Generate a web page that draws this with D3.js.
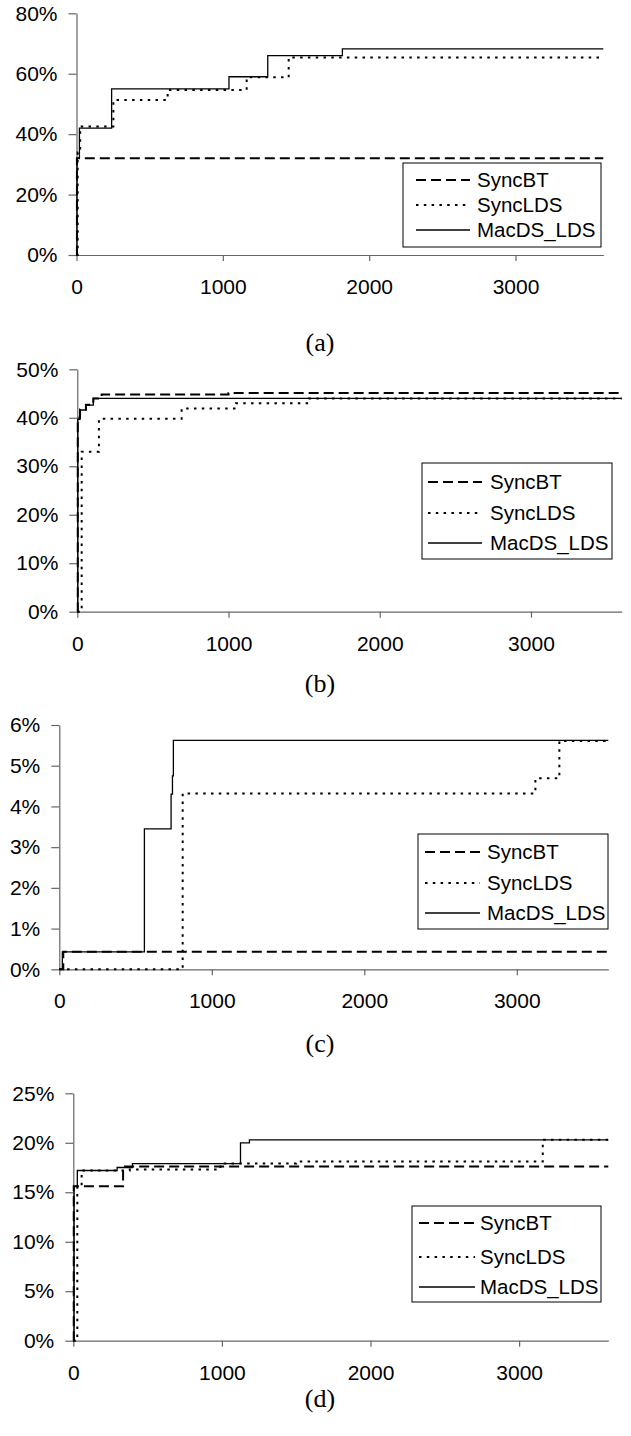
<!DOCTYPE html>
<html>
<head>
<meta charset="utf-8">
<script src="https://cdn.jsdelivr.net/npm/d3@7"></script>
<style>
  body { margin: 0; background: #fff; }
  svg text { font-family: "Liberation Sans", Arial, sans-serif; fill: #000; }
  .cap { font-family: "Liberation Serif", "Times New Roman", serif; }
</style>
</head>
<body>
<svg id="chart" width="631" height="1436"></svg>
<script>
// series names + x ticks shared by all four panels
var seriesNames = ["SyncBT", "SyncLDS", "MacDS_LDS"];
var xTicks = [0, 1000, 2000, 3000];

// (a) step points [time, percent]
var a_syncBT = [[0,0],[3,32],[3600,32]];
var a_syncLDS = [[0,0],[8,34],[25,42.5],[252,51.3],[623,54.6],[1163,58.8],[1450,65.4],[3600,65.4]];
var a_macDS = [[0,0],[3,32],[20,42],[240,55],[1042,59],[1307,66],[1817,68.2],[3600,68.2]];
var a_yTicks = [0, 20, 40, 60, 80];

// (b)
var b_syncBT = [[0,0],[3,40],[18,41.7],[57,42.7],[106,44],[161,44.8],[1000,45.1],[3600,45.1]];
var b_syncLDS = [[0,0],[29,33],[143,39.8],[690,41.9],[1049,43],[1530,44],[3600,44]];
var b_macDS = [[0,0],[3,39.7],[18,41.6],[57,42.6],[106,44],[3600,44]];
var b_yTicks = [0, 10, 20, 30, 40, 50];

// (c)
var c_syncBT = [[0,0],[26,0.43],[3600,0.43]];
var c_syncLDS = [[0,0],[809,4.32],[3122,4.69],[3279,5.61],[3600,5.61]];
var c_macDS = [[0,0],[20,0.43],[558,3.45],[733,4.3],[742,4.75],[748,5.62],[3600,5.62]];
var c_yTicks = [0, 1, 2, 3, 4, 5, 6];

// (d)
var d_syncBT = [[0,0],[3,15.6],[335,17.6],[3600,17.6]];
var d_syncLDS = [[0,0],[27,15.7],[56,17.2],[380,17.3],[990,17.9],[1500,18.1],[3159,20.3],[3600,20.3]];
var d_macDS = [[0,0],[5,15.6],[27,17.2],[295,17.5],[398,17.9],[1125,20.0],[1185,20.3],[3600,20.3]];
var d_yTicks = [0, 5, 10, 15, 20, 25];

var styles = [
  {dash: "10,5", width: 2},
  {dash: "2.5,5.3", width: 2},
  {dash: null, width: 1.3}
];

// layout of each panel (pixels)
var panels = [
  {series: [a_syncBT, a_syncLDS, a_macDS], yTicks: a_yTicks, x0: 76.5, x1: 603.3, yTop: 13.3, yBot: 255, cap: "(a)", capY: 351,
   leg: {x: 403, y: 163, w: 198, h: 84, rows: [180, 205, 230], lx0: 416, lx1: 470, tx: 477}},
  {series: [b_syncBT, b_syncLDS, b_macDS], yTicks: b_yTicks, x0: 77.3, x1: 621.7, yTop: 369.3, yBot: 611.7, cap: "(b)", capY: 692,
   leg: {x: 422, y: 463, w: 190, h: 96, rows: [482, 513, 543], lx0: 428, lx1: 482, tx: 490}},
  {series: [c_syncBT, c_syncLDS, c_macDS], yTicks: c_yTicks, x0: 59.3, x1: 608.3, yTop: 725, yBot: 969.3, cap: "(c)", capY: 1052,
   leg: {x: 418, y: 834, w: 190, h: 95, rows: [852, 883, 913], lx0: 425, lx1: 480, tx: 487}},
  {series: [d_syncBT, d_syncLDS, d_macDS], yTicks: d_yTicks, x0: 73.3, x1: 608.3, yTop: 1093.3, yBot: 1340.7, cap: "(d)", capY: 1407,
   leg: {x: 412, y: 1206, w: 189, h: 96, rows: [1223, 1257, 1287], lx0: 419, lx1: 475, tx: 480}}
];

var svg = d3.select("#chart");

panels.forEach(function(p) {
  var x = d3.scaleLinear().domain([0, 3600]).range([p.x0, p.x1]);
  var y = d3.scaleLinear().domain([0, d3.max(p.yTicks)]).range([p.yBot, p.yTop]);

  var g = svg.append("g");

  // y axis
  var ya = g.append("g")
    .attr("transform", "translate(" + p.x0 + ",0)")
    .call(d3.axisLeft(y).tickValues(p.yTicks).tickSize(8).tickSizeOuter(0).tickPadding(11)
      .tickFormat(function(d) { return d + "%"; }));
  // x axis
  var xa = g.append("g")
    .attr("transform", "translate(0," + p.yBot + ")")
    .call(d3.axisBottom(x).tickValues(xTicks).tickSize(6).tickSizeOuter(0).tickPadding(18)
      .tickFormat(d3.format("d")));

  [ya, xa].forEach(function(a) {
    a.select(".domain").attr("stroke", "#666").attr("stroke-width", 1.2);
    a.selectAll(".tick line").attr("stroke", "#666").attr("stroke-width", 1.2);
    a.selectAll("text").attr("font-size", "21px").attr("fill", "#000")
      .style("font-family", "'Liberation Sans', Arial, sans-serif");
  });

  // step lines
  var line = d3.line()
    .x(function(d) { return x(d[0]); })
    .y(function(d) { return y(d[1]); })
    .curve(d3.curveStepAfter);

  p.series.forEach(function(s, i) {
    g.append("path")
      .datum(s)
      .attr("d", line)
      .attr("fill", "none")
      .attr("stroke", "#000")
      .attr("stroke-width", styles[i].width)
      .attr("stroke-dasharray", styles[i].dash);
  });

  // legend
  var L = p.leg;
  g.append("rect")
    .attr("x", L.x).attr("y", L.y).attr("width", L.w).attr("height", L.h)
    .attr("fill", "#fff").attr("stroke", "#000").attr("stroke-width", 1);
  seriesNames.forEach(function(name, i) {
    g.append("line")
      .attr("x1", L.lx0).attr("x2", L.lx1)
      .attr("y1", L.rows[i]).attr("y2", L.rows[i])
      .attr("stroke", "#000")
      .attr("stroke-width", styles[i].width)
      .attr("stroke-dasharray", styles[i].dash);
    g.append("text")
      .attr("x", L.tx).attr("y", L.rows[i] + 7)
      .attr("font-size", "20.5px")
      .text(name);
  });

  // caption
  g.append("text")
    .attr("class", "cap")
    .attr("x", 320).attr("y", p.capY)
    .attr("text-anchor", "middle")
    .attr("font-size", "26px")
    .text(p.cap);
});
</script>
</body>
</html>
